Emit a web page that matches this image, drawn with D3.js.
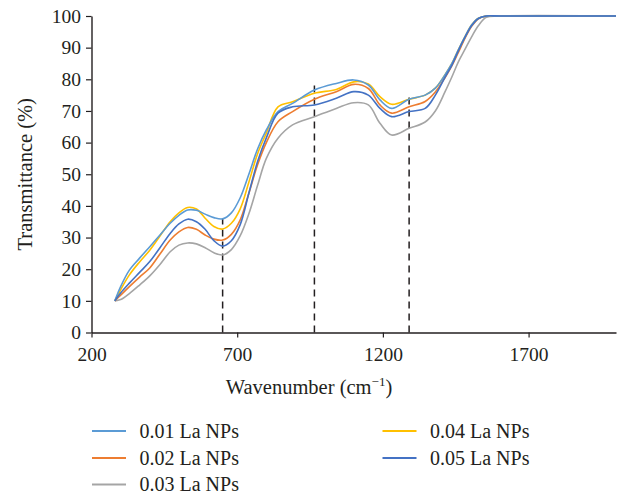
<!DOCTYPE html>
<html>
<head>
<meta charset="utf-8">
<script src="https://cdn.jsdelivr.net/npm/d3@7"></script>
<style>
  html, body { margin: 0; padding: 0; background: #fff; }
  text { font-family: "Liberation Serif", "Times New Roman", serif; fill: #231f20; }
</style>
</head>
<body>
<svg id="chart"></svg>
<script>
// ── data ──────────────────────────────────────────────────────────────
const wavenumbers = [280, 300, 330, 365, 400, 435, 470, 500, 530, 560, 590, 620, 650, 680, 710, 740, 770, 800, 840, 890, 965, 1040, 1100, 1150, 1190, 1230, 1290, 1345, 1380, 1413, 1437, 1459, 1482, 1505, 1528, 1555, 1600, 2000];

const seriesNames = ['0.01 La NPs', '0.02 La NPs', '0.03 La NPs', '0.04 La NPs', '0.05 La NPs'];

const la001 = [10, 14.5, 19.7, 23.5, 27.1, 30.8, 34.5, 37, 38.7, 38.6, 37.4, 36.3, 35.9, 37.8, 42.5, 50, 58, 64, 69.8, 72.4, 76.6, 78.7, 79.8, 78.2, 73.5, 70.8, 73.7, 75, 77.2, 81.4, 85, 89.3, 93.5, 97.2, 99.3, 100, 100, 100];
const la002 = [10, 11.8, 14.5, 17.5, 20.4, 24.8, 29.2, 31.8, 33.2, 32.6, 30.8, 29.5, 29.2, 31, 35.5, 44, 53, 60, 66.6, 69.8, 73.7, 76.1, 78.4, 77.1, 71.9, 69.3, 71.3, 73, 76, 80.5, 84.3, 88.5, 93, 96.8, 99.1, 100, 100, 100];
const la003 = [10, 10.4, 12.3, 15, 17.9, 21.5, 25.5, 27.6, 28.3, 28, 26.8, 25.2, 24.5, 26.2, 30.5, 37.5, 46.5, 55, 61.4, 65.6, 68.2, 70.8, 72.6, 71.9, 66.1, 62.4, 64.5, 66.5, 70, 76, 80.8, 85.5, 89.5, 93.5, 97, 99.6, 100, 100];
const la004 = [10, 13.5, 18.2, 22.3, 26, 30.5, 35, 37.8, 39.5, 39, 36.1, 33.5, 32.7, 34.5, 39, 47.5, 56.5, 63, 71.3, 72.9, 75.6, 76.8, 79.2, 78.5, 74.5, 72.1, 73.7, 75, 77.2, 81.4, 85, 89.3, 93.5, 97.2, 99.3, 100, 100, 100];
const la005 = [10, 12.5, 15.6, 19, 22.4, 26.8, 31.3, 34.3, 35.8, 35, 32.6, 29, 27.3, 29, 34, 44, 54, 61.5, 69.3, 71.3, 71.9, 74, 76.1, 75, 70.8, 68.2, 69.8, 70.8, 75, 80.6, 84.5, 89, 93.3, 97, 99.2, 100, 100, 100];

const seriesValues = [la001, la002, la003, la004, la005];
const seriesColors = ['#5b9bd5', '#ed7d31', '#a5a5a5', '#ffc000', '#4472c4'];

// dashed marker lines (wavenumber, top value)
const markerWavenumbers = [650, 965, 1290];
const markerTops = [36, 78.5, 74.5];

const xTicks = [200, 700, 1200, 1700];
const yTicks = [0, 10, 20, 30, 40, 50, 60, 70, 80, 90, 100];

// ── layout ────────────────────────────────────────────────────────────
const width = 617;
const height = 494;
const margin = { left: 91.5, right: 1, top: 16, bottom: 161.5 };

const svg = d3.select('#chart')
  .attr('width', width)
  .attr('height', height);

const x = d3.scaleLinear().domain([200, 2000]).range([margin.left, width - margin.right]);
const y = d3.scaleLinear().domain([0, 100]).range([height - margin.bottom, margin.top]);

// ── axes ──────────────────────────────────────────────────────────────
const xAxis = svg.append('g')
  .attr('transform', `translate(0,${y(0)})`)
  .call(d3.axisBottom(x).tickValues(xTicks).tickFormat(d3.format('d'))
    .tickSize(5).tickPadding(10).tickSizeOuter(0));

const yAxis = svg.append('g')
  .attr('transform', `translate(${x(200)},0)`)
  .call(d3.axisLeft(y).tickValues(yTicks).tickSize(5.5).tickPadding(5).tickSizeOuter(0));

[xAxis, yAxis].forEach(g => {
  g.select('.domain').attr('stroke', '#231f20').attr('stroke-width', 1.4);
  g.selectAll('.tick line').attr('stroke', '#231f20').attr('stroke-width', 1.2);
  g.selectAll('.tick text')
    .style('font-family', '"Liberation Serif", serif')
    .style('font-size', '19.5px')
    .attr('fill', '#231f20');
});

// ── dashed markers ────────────────────────────────────────────────────
svg.append('g').selectAll('line')
  .data(markerWavenumbers)
  .join('line')
  .attr('x1', d => x(d))
  .attr('x2', d => x(d))
  .attr('y1', y(0))
  .attr('y2', (d, i) => y(markerTops[i]))
  .attr('stroke', '#231f20')
  .attr('stroke-width', 1.5)
  .attr('stroke-dasharray', '7,5');

// ── curves ────────────────────────────────────────────────────────────
const line = d3.line()
  .x((d, i) => x(wavenumbers[i]))
  .y(d => y(d))
  .curve(d3.curveCatmullRom.alpha(0.5));

// draw in an order that keeps dark blue on top like the source
const drawOrder = [2, 1, 3, 0, 4];
svg.append('g').selectAll('path')
  .data(drawOrder)
  .join('path')
  .attr('d', i => line(seriesValues[i]))
  .attr('fill', 'none')
  .attr('stroke', i => seriesColors[i])
  .attr('stroke-width', 1.6);

// ── axis titles ───────────────────────────────────────────────────────
svg.append('text')
  .attr('x', 309)
  .attr('y', 394)
  .attr('text-anchor', 'middle')
  .style('font-size', '20.5px')
  .html('Wavenumber (cm<tspan dy="-8" font-size="13">−1</tspan><tspan dy="8">)</tspan>');

svg.append('text')
  .attr('transform', `translate(32,${(y(0) + y(100)) / 2}) rotate(-90)`)
  .attr('text-anchor', 'middle')
  .style('font-size', '20.5px')
  .text('Transmittance (%)');

// ── legend ────────────────────────────────────────────────────────────
const legendCols = [
  { lineX: 92, textX: 139.5, items: [0, 1, 2] },
  { lineX: 382.5, textX: 430, items: [3, 4] }
];
const legendRowY = [437.5, 464.5, 491];

legendCols.forEach(col => {
  const g = svg.append('g');
  const rows = g.selectAll('g')
    .data(col.items)
    .join('g')
    .attr('transform', (d, i) => `translate(0,${legendRowY[i]})`);
  rows.append('line')
    .attr('x1', col.lineX)
    .attr('x2', col.lineX + 34)
    .attr('y1', -6.5)
    .attr('y2', -6.5)
    .attr('stroke', d => seriesColors[d])
    .attr('stroke-width', 1.8);
  rows.append('text')
    .attr('x', col.textX)
    .style('font-size', '20px')
    .text(d => seriesNames[d]);
});
</script>
</body>
</html>
